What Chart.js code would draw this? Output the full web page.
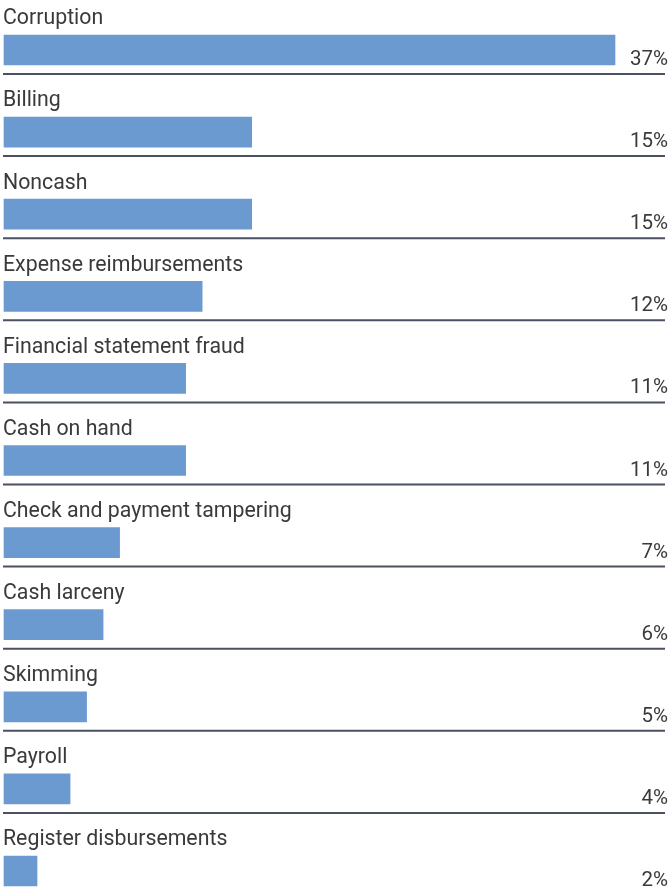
<!DOCTYPE html>
<html>
<head>
<meta charset="utf-8">
<script src="https://cdn.jsdelivr.net/npm/chart.js@4/dist/chart.umd.min.js"></script>
<style>
  html, body { margin: 0; padding: 0; background: #ffffff; }
  #wrap { width: 671px; height: 895px; position: relative; }
</style>
</head>
<body>
<div id="wrap"><canvas id="chart"></canvas></div>
<script>
// Données
const categories = [
  'Corruption', 'Billing', 'Noncash', 'Expense reimbursements',
  'Financial statement fraud', 'Cash on hand', 'Check and payment tampering',
  'Cash larceny', 'Skimming', 'Payroll', 'Register disbursements'
];
const percentages = [37, 15, 15, 12, 11, 11, 7, 6, 5, 4, 2];

const colors = {
  bar: '#6b9ad0',
  text: '#3a3a3a',
  rule: '#4b5062'
};
const labelFont = '21.3px Roboto, "Open Sans", sans-serif';
const valueFont = '20.5px Roboto, "Open Sans", sans-serif';

// Plugin : libellés au-dessus des barres, valeurs à droite, traits de séparation
const rowDecor = {
  id: 'rowDecor',
  afterDatasetsDraw(chart) {
    const ctx = chart.ctx;
    const yScale = chart.scales.y;
    const meta = chart.getDatasetMeta(0);
    ctx.save();
    ctx.fillStyle = colors.text;
    meta.data.forEach((bar, i) => {
      const yc = yScale.getPixelForValue(i);
      ctx.font = labelFont;
      ctx.textAlign = 'left';
      ctx.textBaseline = 'middle';
      ctx.fillText(categories[i], 3, yc - 31);
      ctx.font = valueFont;
      ctx.textAlign = 'right';
      ctx.textBaseline = 'alphabetic';
      ctx.fillText(percentages[i] + '%', 668, yc + 15);
      if (i < categories.length - 1) {
        ctx.strokeStyle = colors.rule;
        ctx.lineWidth = 2;
        ctx.beginPath();
        ctx.moveTo(3, yc + 24);
        ctx.lineTo(665, yc + 24);
        ctx.stroke();
      }
    });
    ctx.restore();
  }
};

new Chart(document.getElementById('chart'), {
  type: 'bar',
  data: {
    labels: categories,
    datasets: [{
      data: percentages,
      backgroundColor: colors.bar,
      barThickness: 30,
      clip: false
    }]
  },
  options: {
    indexAxis: 'y',
    responsive: true,
    maintainAspectRatio: false,
    animation: false,
    layout: { padding: { left: 4, right: 56, top: 50, bottom: 24 } },
    scales: {
      x: { display: false, min: 0, max: 37 },
      y: { display: false, offset: false }
    },
    plugins: {
      legend: { display: false },
      tooltip: { enabled: false }
    }
  },
  plugins: [rowDecor]
});
</script>
</body>
</html>
